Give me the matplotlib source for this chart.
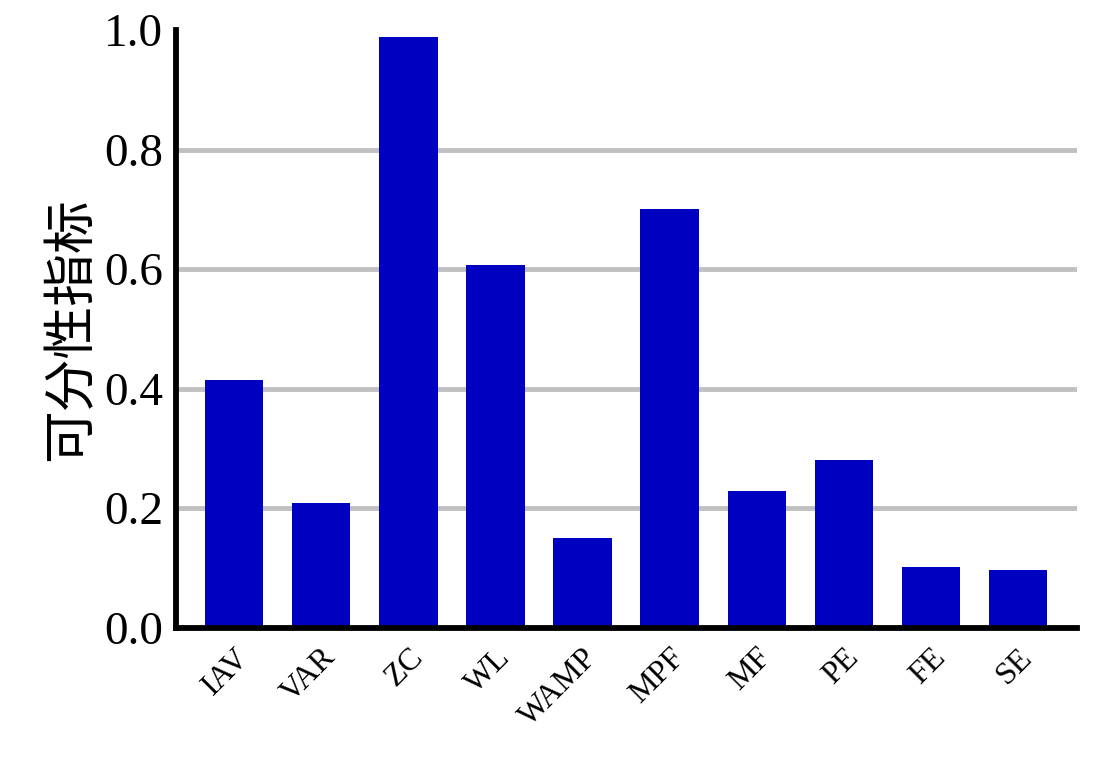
import matplotlib
matplotlib.use("Agg")
import matplotlib.pyplot as plt

# 特征名称与可分性指标
features = ['IAV', 'VAR', 'ZC', 'WL', 'WAMP', 'MPF', 'MF', 'PE', 'FE', 'SE']
values = [0.415, 0.209, 0.988, 0.607, 0.150, 0.701, 0.229, 0.281, 0.101, 0.096]
y_ticks = [0.0, 0.2, 0.4, 0.6, 0.8, 1.0]

plt.rcParams['font.family'] = ['Liberation Serif', 'Noto Sans CJK SC']

fig = plt.figure(figsize=(11.06, 7.6), dpi=100)
ax = fig.add_axes([0.159, 0.174, 0.815, 0.7865])

x = range(len(features))
ax.bar(x, values, width=0.67, color='#0000c0', zorder=3)

ax.set_xlim(-0.67, len(features) - 1 + 0.68)
ax.set_ylim(0, 1.0)
ax.set_yticks(y_ticks)
ax.set_yticklabels(['%.1f' % t for t in y_ticks], fontsize=34)
ax.set_xticks(list(x))
ax.set_xticklabels(features, fontsize=23, rotation=45, ha='right',
                   rotation_mode='anchor')
ax.tick_params(axis='both', length=0)
ax.tick_params(axis='y', pad=9)
ax.tick_params(axis='x', pad=11)

# 网格线（不画 0 和 1.0）
for t in y_ticks[1:-1]:
    ax.axhline(t, color='#c0c0c0', lw=3.5, zorder=1)

for s in ['top', 'right']:
    ax.spines[s].set_visible(False)
for s in ['left', 'bottom']:
    ax.spines[s].set_linewidth(4.2)
    ax.spines[s].set_zorder(4)

ax.set_ylabel('可分性指标', fontsize=38, family=['Noto Sans CJK SC'], labelpad=4)

fig.savefig('out.png', dpi=100)
